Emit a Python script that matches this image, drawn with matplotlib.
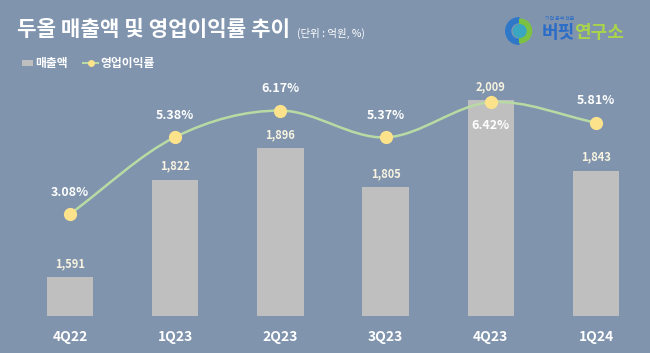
import matplotlib
matplotlib.use("Agg")
import matplotlib.pyplot as plt
from matplotlib.path import Path
from matplotlib.patches import PathPatch, Circle, Rectangle, Wedge
from matplotlib.lines import Line2D
import numpy as np

plt.rcParams['font.family'] = ['Noto Sans CJK KR', 'DejaVu Sans']

categories = ["4Q22", "1Q23", "2Q23", "3Q23", "4Q23", "1Q24"]
sales = [1591, 1822, 1896, 1805, 2009, 1843]
margin = [3.08, 5.38, 6.17, 5.37, 6.42, 5.81]
sales_labels = ["1,591", "1,822", "1,896", "1,805", "2,009", "1,843"]
margin_labels = ["3.08%", "5.38%", "6.17%", "5.37%", "6.42%", "5.81%"]

BG = "#8094ae"
BAR = "#bfbfbf"
LINE = "#b8dba4"
MARK = "#fde28c"
TXT = "#ffffff"
NUM = "#f7f3e0"

fig = plt.figure(figsize=(6.5, 3.53), dpi=100)
fig.patch.set_facecolor(BG)

ax = fig.add_axes([0, 0.1048, 1, 0.654])
ax.set_facecolor("none")
x = np.arange(len(categories))
ax.bar(x, sales, width=0.44, color=BAR, zorder=2)
ax.set_xlim(-0.665, 5.513)
ax.set_ylim(1500, 2045)
for s in ax.spines.values():
    s.set_visible(False)
ax.set_yticks([])
ax.set_xticks(x)
ax.set_xticklabels(categories, color=TXT, fontsize=10, fontweight='bold')
ax.tick_params(axis='x', length=0, pad=10)

for xi, v, lab in zip(x, sales, sales_labels):
    ax.annotate(lab, (xi, v), xytext=(0, 5), textcoords='offset points',
                ha='center', va='bottom', color=NUM, fontsize=8, fontweight='bold', zorder=5)

ax2 = ax.twinx()
ax2.set_ylim(0.035, 6.93)
ax2.set_yticks([])
for s in ax2.spines.values():
    s.set_visible(False)

# smooth curve through the points (Catmull-Rom -> cubic Bezier)
pts = np.column_stack([x, margin]).astype(float)
ext = np.vstack([pts[0] - (pts[1] - pts[0]), pts, pts[-1] + (pts[-1] - pts[-2])])
verts = [tuple(pts[0])]
codes = [Path.MOVETO]
for i in range(1, len(ext) - 2):
    p0, p1, p2, p3 = ext[i - 1], ext[i], ext[i + 1], ext[i + 2]
    c1 = p1 + (p2 - p0) / 6.0
    c2 = p2 - (p3 - p1) / 6.0
    verts += [tuple(c1), tuple(c2), tuple(p2)]
    codes += [Path.CURVE4] * 3
ax2.add_patch(PathPatch(Path(verts, codes), facecolor='none', edgecolor=LINE, lw=1.8, zorder=3))
ax2.plot(x, margin, 'o', color=MARK, markersize=9.5, markeredgewidth=0, zorder=4)

for i, (xi, v, lab) in enumerate(zip(x, margin, margin_labels)):
    if i == 4:
        ax2.annotate(lab, (xi, v), xytext=(0, -12), textcoords='offset points',
                     ha='center', va='top', color=TXT, fontsize=9, fontweight='bold', zorder=5)
    else:
        ax2.annotate(lab, (xi, v), xytext=(0, 11), textcoords='offset points',
                     ha='center', va='bottom', color=TXT, fontsize=9, fontweight='bold', zorder=5)

# Title
title = fig.text(17 / 650, 1 - 30 / 353, "두올 매출액 및 영업이익률 추이", color=TXT, fontsize=15.3,
                 fontweight='bold', va='center', ha='left')
fig.text(297 / 650, 1 - 33 / 353, "(단위 : 억원, %)", color=TXT, fontsize=7.5,
         va='center', ha='left')

# Legend
fig.patches.append(Rectangle((22 / 650, 1 - 66 / 353), 11 / 650, 6 / 353, transform=fig.transFigure,
                             facecolor=BAR, edgecolor='none'))
fig.text(35 / 650, 1 - 63 / 353, "매출액", color=TXT, fontsize=8.5, fontweight='bold', va='center', ha='left')
fig.lines.append(Line2D([83 / 650, 98 / 650], [1 - 63 / 353] * 2, transform=fig.transFigure, color=LINE, lw=1.5))
fig.lines.append(Line2D([90.5 / 650], [1 - 63 / 353], transform=fig.transFigure, marker='o', color=MARK,
                        markersize=5, markeredgewidth=0))
fig.text(100 / 650, 1 - 63 / 353, "영업이익률", color=TXT, fontsize=8.5, fontweight='bold', va='center', ha='left')

# Logo
lax = fig.add_axes([505 / 650, 1 - 45 / 353, 28 / 650, 28 / 353])
lax.set_xlim(-1, 1); lax.set_ylim(-1, 1); lax.set_aspect('equal'); lax.axis('off')
lax.add_patch(Wedge((0, 0), 0.95, 90, 270, width=0.35, color="#2f78c8"))
lax.add_patch(Wedge((0.05, 0), 0.85, -90, 90, width=0.35, color="#7cc242"))
lax.add_patch(Circle((0.05, 0), 0.45, color="#3aa6c0"))
fig.text(542 / 650, 1 - 32 / 353, "버핏", color="#2a6cc8", fontsize=13, fontweight='bold', va='center', ha='left')
fig.text(574 / 650, 1 - 32 / 353, "연구소", color="#a9d44a", fontsize=13, fontweight='bold', va='center', ha='left')
fig.text(545 / 650, 1 - 19 / 353, "기업 분석 전문", color="#2a6cc8", fontsize=3.5, va='center', ha='left')

fig.savefig("out.png", dpi=100, facecolor=BG)
